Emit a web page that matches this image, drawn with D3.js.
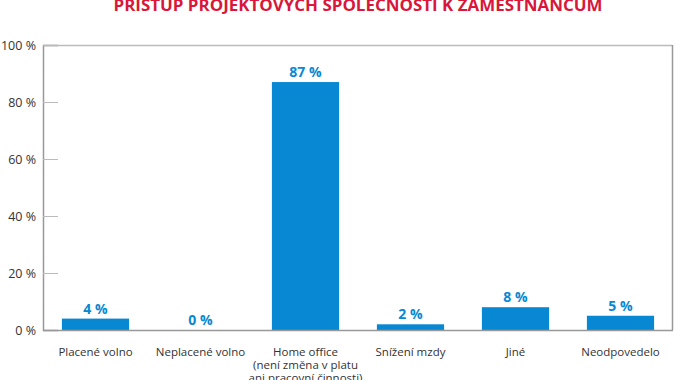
<!DOCTYPE html>
<html><head><meta charset="utf-8">
<script src="https://cdn.jsdelivr.net/npm/d3@7"></script>
<style>html,body{margin:0;padding:0;background:#fff;overflow:hidden}</style>
</head><body>
<svg id="c" width="674" height="380"></svg>
<script>
const title = "PŘÍSTUP PROJEKTOVÝCH SPOLEČNOSTÍ K ZAMĚSTNANCŮM";
const categories = [
  ["Placené volno"],
  ["Neplacené volno"],
  ["Home office", "(není změna v platu", "ani pracovní činnosti)"],
  ["Snížení mzdy"],
  ["Jiné"],
  ["Neodpovedelo"]
];
const values = [4, 0, 87, 2, 8, 5];
const yTicks = [0, 20, 40, 60, 80, 100];

(function () {
const svg = d3.select("#c");
const pL = 43, pR = 673, pT = 45, pB = 330;
const x = d3.scaleBand().domain(d3.range(categories.length)).range([pL, pR]).paddingInner(0.36).paddingOuter(0.18);
const y = d3.scaleLinear().domain([0, 100]).range([pB, pT]);
const font = "'Open Sans', sans-serif";
const blue = "#0888d2";

svg.append("text").attr("x", 358).attr("y", 11).attr("text-anchor", "middle")
  .attr("font-family", font).attr("font-weight", 700).attr("font-size", 16)
  .attr("fill", "#d8173b").attr("textLength", 489).attr("lengthAdjust", "spacingAndGlyphs").text(title);

// frame
svg.append("line").attr("x1", pL).attr("x2", pR - 0.5).attr("y1", pT + 0.5).attr("y2", pT + 0.5).attr("stroke", "#bbb").attr("stroke-width", 1.5);
svg.append("line").attr("x1", pR - 0.5).attr("x2", pR - 0.5).attr("y1", pT).attr("y2", pB).attr("stroke", "#999").attr("stroke-width", 1.5);

// y axis
const yAxis = d3.axisLeft(y).tickValues(yTicks).tickSize(-15).tickPadding(22).tickFormat(d => d + " %");
const ga = svg.append("g").attr("transform", `translate(${pL},0)`).call(yAxis);
ga.select(".domain").attr("stroke", "#999").attr("stroke-width", 1.5);
ga.selectAll(".tick line").attr("stroke", "#bbb");
ga.selectAll(".tick text").attr("font-family", font).attr("font-size", 12.5).attr("fill", "#333").attr("x", -7);

// bars
svg.selectAll("rect.bar").data(values).join("rect").attr("class", "bar")
  .attr("x", (d, i) => x(i)).attr("width", x.bandwidth())
  .attr("y", d => y(d)).attr("height", d => pB - y(d)).attr("fill", blue);

// x axis line
svg.append("line").attr("x1", pL).attr("x2", pR).attr("y1", pB + 0.5).attr("y2", pB + 0.5).attr("stroke", "#999").attr("stroke-width", 1.5);

// value labels
svg.selectAll("text.val").data(values).join("text").attr("class", "val")
  .attr("x", (d, i) => x(i) + x.bandwidth() / 2).attr("y", d => y(d) - 5)
  .attr("text-anchor", "middle").attr("font-family", font).attr("font-weight", 700)
  .attr("font-size", 14).attr("fill", blue).text(d => d + " %");

// category labels
const cl = svg.selectAll("text.cat").data(categories).join("text").attr("class", "cat")
  .attr("text-anchor", "middle").attr("font-family", font).attr("font-size", 11.5).attr("fill", "#333")
  .attr("transform", (d, i) => `translate(${x(i) + x.bandwidth() / 2},356)`);
cl.selectAll("tspan").data(d => d).join("tspan").attr("x", 0).attr("y", (d, j) => j * 13).text(d => d);
})();
</script>
</body></html>
